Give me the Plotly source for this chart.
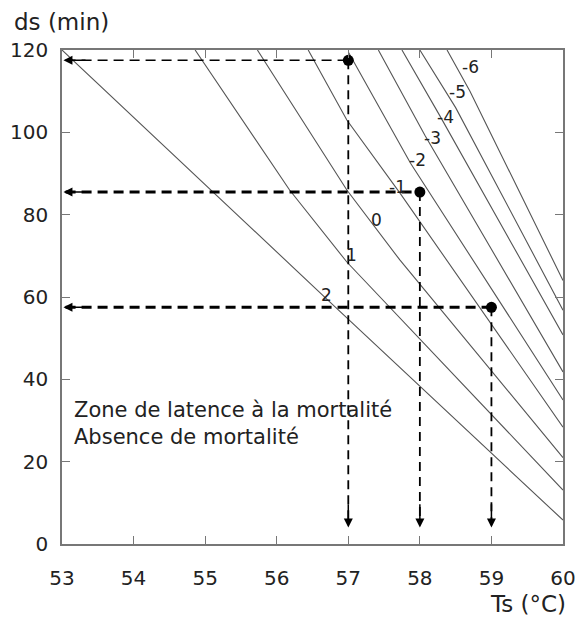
import plotly.graph_objects as go

# Iso-lethality contours: temperature Ts (°C) vs holding time ds (min)
contour_levels = ["2", "1", "0", "-1", "-2", "-3", "-4", "-5", "-6"]
contour_ts = [
    [53.0, 56.70, 60.0],
    [54.86, 56.18, 56.98, 60.0],
    [55.73, 56.98, 57.72, 60.0],
    [56.44, 56.98, 57.72, 60.0],
    [57.0, 57.87, 60.0],
    [57.42, 58.07, 60.0],
    [57.75, 58.28, 60.0],
    [58.0, 58.50, 60.0],
    [58.38, 58.70, 60.0],
]
contour_ds = [
    [120.0, 59.5, 5.8],
    [120.0, 86.0, 68.5, 13.1],
    [120.0, 86.0, 69.0, 21.0],
    [120.0, 103.0, 85.3, 28.4],
    [119.5, 92.5, 35.0],
    [120.0, 99.3, 41.8],
    [120.0, 104.0, 50.8],
    [120.0, 106.0, 56.8],
    [120.0, 110.0, 64.0],
]
# label anchor points for each contour
label_ts = [56.70, 57.05, 57.40, 57.69, 57.97, 58.17, 58.36, 58.52, 58.71]
label_ds = [60.5, 70.2, 78.7, 86.7, 93.3, 98.6, 103.7, 109.8, 115.9]

# Equivalent treatments
point_ts = [57, 58, 59]
point_ds = [117.5, 85.5, 57.5]
h_widths = [1.5, 3.0, 3.0]

x_ticks = [53, 54, 55, 56, 57, 58, 59, 60]
y_ticks = [0, 20, 40, 60, 80, 100, 120]

zone_lines = ["Zone de latence à la mortalité", "Absence de mortalité"]

X_MIN, X_MAX = 53, 60
Y_MIN, Y_MAX = 0, 120
ARROW_END = 4

FONT = "DejaVu Sans, Liberation Sans, Arial, sans-serif"

fig = go.Figure()

for ts, ds in zip(contour_ts, contour_ds):
    fig.add_trace(go.Scatter(x=ts, y=ds, mode="lines",
                             line=dict(color="#555", width=1.1),
                             hoverinfo="skip", showlegend=False))

for t, d, w in zip(point_ts, point_ds, h_widths):
    # horizontal reading line towards the ds axis
    fig.add_trace(go.Scatter(x=[X_MIN + 0.05, t], y=[d, d], mode="lines",
                             line=dict(color="black", width=w, dash="10px,6px"),
                             hoverinfo="skip", showlegend=False))
    # vertical reading line towards the Ts axis
    fig.add_trace(go.Scatter(x=[t, t], y=[d, ARROW_END + 1], mode="lines",
                             line=dict(color="black", width=1.8, dash="9px,6px"),
                             hoverinfo="skip", showlegend=False))
    fig.add_annotation(x=X_MIN + 0.02, y=d, ax=X_MIN + 0.35, ay=d,
                       xref="x", yref="y", axref="x", ayref="y",
                       showarrow=True, arrowhead=2, arrowsize=1.2,
                       arrowwidth=1.5, arrowcolor="black", text="")
    fig.add_annotation(x=t, y=ARROW_END, ax=t, ay=ARROW_END + 6,
                       xref="x", yref="y", axref="x", ayref="y",
                       showarrow=True, arrowhead=2, arrowsize=1.2,
                       arrowwidth=1.5, arrowcolor="black", text="")

fig.add_trace(go.Scatter(x=point_ts, y=point_ds, mode="markers",
                         marker=dict(color="black", size=11),
                         hoverinfo="skip", showlegend=False))

for lev, t, d in zip(contour_levels, label_ts, label_ds):
    fig.add_annotation(x=t, y=d, text=lev, showarrow=False,
                       font=dict(size=17, color="#222"))

for i, line in enumerate(zone_lines):
    fig.add_annotation(x=0.02, y=0.271 - i * 0.055, xref="paper", yref="paper",
                       xanchor="left", yanchor="middle", showarrow=False,
                       text=line, font=dict(size=21, color="#222"))

fig.add_annotation(x=-0.10, y=1.0, xref="paper", yref="paper",
                   xanchor="left", yanchor="bottom", yshift=13, showarrow=False,
                   text="ds (min)", font=dict(size=23, color="#222"))
fig.add_annotation(x=1.01, y=0, xref="paper", yref="paper",
                   xanchor="right", yanchor="top", yshift=-45, showarrow=False,
                   text="Ts (°C)", font=dict(size=23, color="#222"))

axis_common = dict(showgrid=False, zeroline=False, mirror="ticks",
                   showline=True, linecolor="#777", linewidth=1.5,
                   ticks="inside", ticklen=8, tickcolor="#777", tickwidth=1.2,
                   tickfont=dict(size=20, color="#222"), automargin=False,
                   ticklabeloverflow="allow")

fig.update_xaxes(range=[X_MIN, X_MAX], tickvals=x_ticks, ticklabelstandoff=15,
                 **axis_common)
fig.update_yaxes(range=[Y_MIN, Y_MAX], tickvals=y_ticks, ticklabelstandoff=8,
                 **axis_common)

fig.update_layout(
    width=575, height=622,
    margin=dict(l=62, r=12, t=50, b=78),
    paper_bgcolor="white", plot_bgcolor="white",
    font=dict(family=FONT),
)

fig.write_html("out.html")
